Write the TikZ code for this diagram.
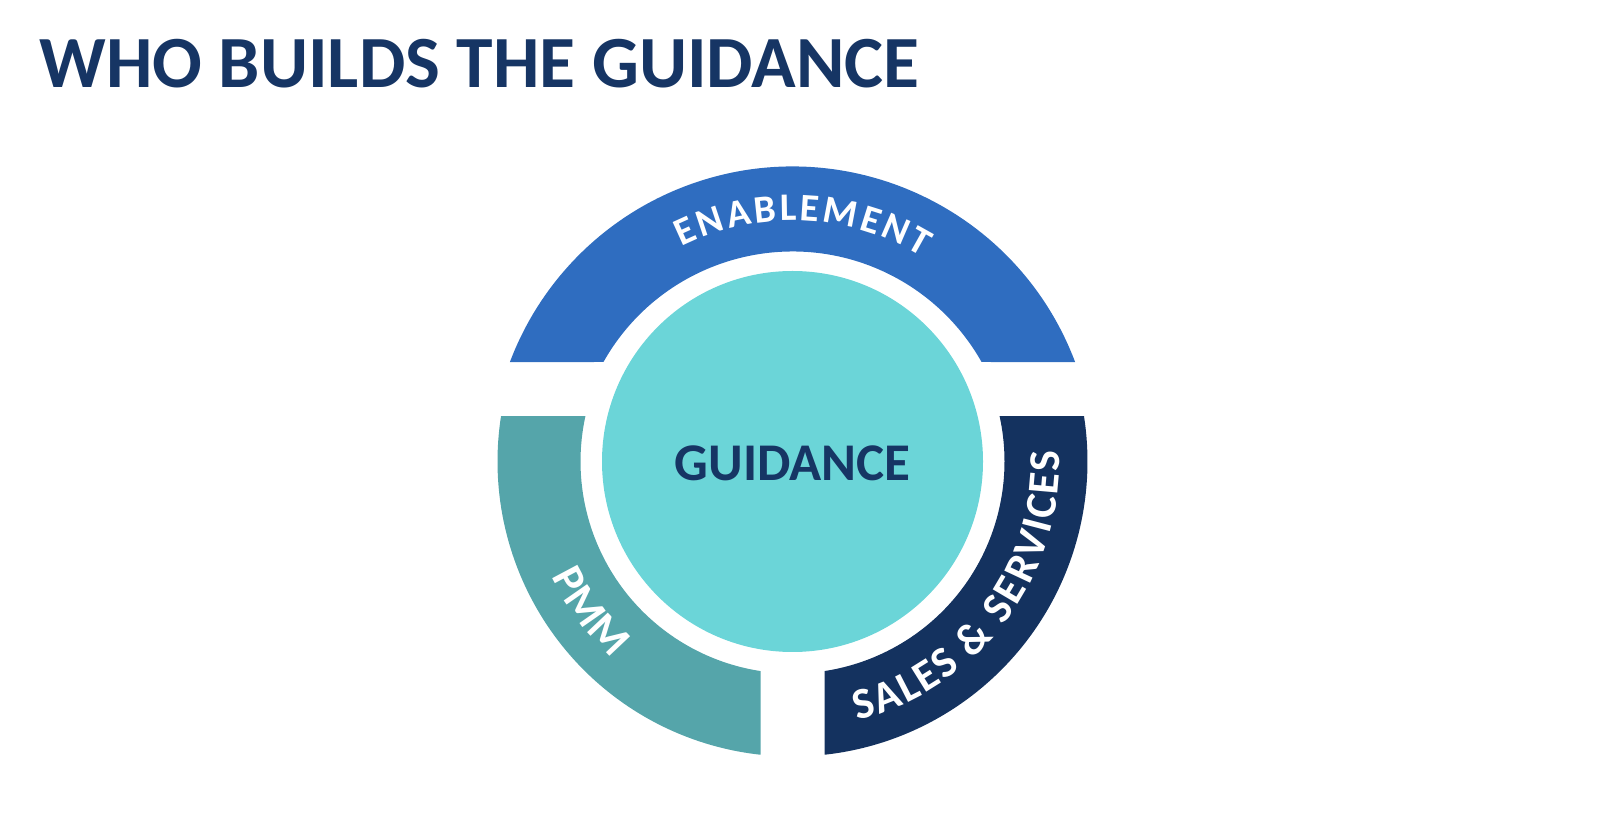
\documentclass[tikz,border=0pt]{standalone}
\usepackage{fontspec}
\setmainfont{Carlito}
\usetikzlibrary{calc,decorations.text}
\definecolor{enabblue}{HTML}{2F6DC0}
\definecolor{pmmteal}{HTML}{55A5AA}
\definecolor{salesnavy}{HTML}{14325F}
\definecolor{guidecyan}{HTML}{6BD5D8}
\definecolor{titlenavy}{HTML}{163564}
\newcommand\enabfont{\bfseries\fontsize{19.5pt}{19.5pt}\selectfont}
\newcommand\bandfont{\bfseries\fontsize{22pt}{22pt}\selectfont}
\begin{document}
\begin{tikzpicture}[x=0.5pt,y=0.5pt,
  arctext/.style={decorate, decoration={text along path, text align=fit to path, text color=white, text={#1}}}]
\useasboundingbox (0,0) rectangle (1600,840);
\coordinate (C) at (792.5,378.5);
\coordinate (E) at (792.5,371.5);
% Enablement band
\fill[enabblue] ($(E)+(20.6:302)$) arc[start angle=20.6,end angle=159.4,radius=302]
  -- ($(E)+(150.6:217)$) arc[start angle=150.6,end angle=29.4,radius=217] -- cycle;
% PMM band
\fill[pmmteal] ($(C)+(171.13:295)$) arc[start angle=171.13,end angle=263.77,radius=295]
  -- ($(C)+(261.32:212)$) arc[start angle=261.32,end angle=167.61,radius=212] -- cycle;
% Sales band
\fill[salesnavy] ($(C)+(-83.77:295)$) arc[start angle=-83.77,end angle=8.87,radius=295]
  -- ($(C)+(12.39:212)$) arc[start angle=12.39,end angle=-81.32,radius=212] -- cycle;
% core
\node[circle, fill=guidecyan, minimum size=190.5pt, inner sep=0pt] (core) at (C) {};
\node[inner sep=0pt, text=titlenavy, yshift=-1pt,
  font=\bfseries\fontsize{26.5pt}{26.5pt}\selectfont] (guidance) at (core.center) {GUIDANCE};
% title
\node[anchor=base west, inner sep=0pt, text=titlenavy,
  font=\bfseries\fontsize{36.8pt}{36.8pt}\selectfont] (title) at (39,752.5) {WHO BUILDS THE GUIDANCE};
% curved labels
\path[arctext={|\enabfont|ENABLEMENT}] ($(E)+(116.5:248)$) arc[start angle=116.5,end angle=58.5,radius=248];
\path[arctext={|\bandfont|PMM}] ($(C)+(205.5:267)$) arc[start angle=205.5,end angle=227.5,radius=267];
\path[arctext={|\bandfont|SALES {\&} SERVICES}] ($(C)+(-76:267)$) arc[start angle=-76,end angle=2.2,radius=267];
\end{tikzpicture}
\end{document}
